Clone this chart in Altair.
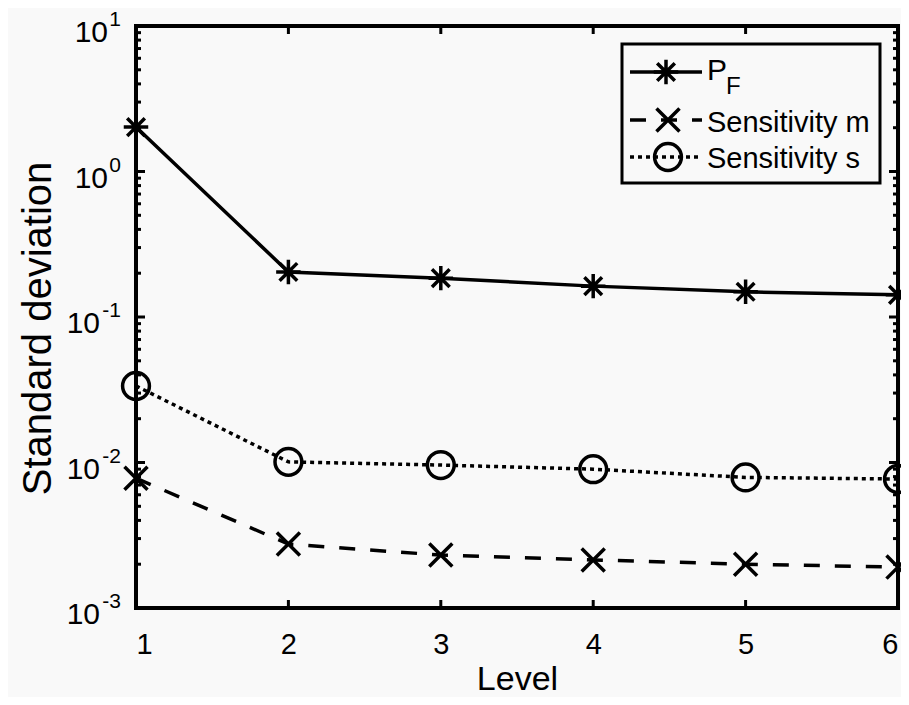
import altair as alt
import pandas as pd

# ---------------- data ----------------
levels = [1, 2, 3, 4, 5, 6]
pf = [2.02, 0.204, 0.185, 0.163, 0.149, 0.142]
sens_m = [0.0078, 0.00275, 0.00231, 0.00214, 0.00200, 0.00191]
sens_s = [0.0336, 0.0101, 0.0096, 0.0090, 0.0079, 0.0077]
series_names = ["P_F", "Sensitivity m", "Sensitivity s"]

x_tick_values = [1, 2, 3, 4, 5, 6]
x_inner_ticks = [2, 3, 4, 5]
y_exponents = [1, 0, -1, -2, -3]
minor_multipliers = [2, 3, 4, 5, 6, 7, 8, 9]

legend_p = ["P"]
legend_sub = ["F"]
legend_m = ["Sensitivity m"]
legend_s = ["Sensitivity s"]

# ---------------- styles ----------------
W, H = 762, 582
BG = "#f9f9f9"
FONT = "Liberation Sans"
LW = 3.5
ASTERISK = "M-1,0L1,0M0,-1L0,1M-0.72,-0.72L0.72,0.72M-0.72,0.72L0.72,-0.72"
XMARK = "M-1,-1L1,1M-1,1L1,-1"
DASH_M = [16, 15]
DOT_S = [4, 4]

df_pf = pd.DataFrame({"level": levels, "value": pf, "series": series_names[0]})
df_m = pd.DataFrame({"level": levels, "value": sens_m, "series": series_names[1]})
df_s = pd.DataFrame({"level": levels, "value": sens_s, "series": series_names[2]})

xs = alt.Scale(domain=[1, 6], nice=False, zero=False)
ys = alt.Scale(type="log", domain=[1e-3, 10], nice=False)

x_axis = alt.Axis(values=x_tick_values, ticks=False, tickSize=0, domain=False, grid=False,
                  labelFontSize=29, labelPadding=22, labelFont=FONT, labelColor="black",
                  title="Level", titleFontSize=34, titleFontWeight="normal", titleFont=FONT,
                  titleColor="black", titleY=81, titleBaseline="alphabetic")
y_axis = alt.Axis(labels=False, ticks=False, tickSize=0, domain=False, grid=False,
                  title="Standard deviation", titleFontSize=40, titleFontWeight="normal",
                  titleFont=FONT, titleColor="black", titleX=-86, titleY=302,
                  titleBaseline="alphabetic")

def X(field):
    return alt.X(f"{field}:Q", scale=xs, axis=x_axis)

def Y(field):
    return alt.Y(f"{field}:Q", scale=ys, axis=y_axis)

layers = []

# series lines
layers.append(alt.Chart(df_pf).mark_line(color="black", strokeWidth=LW).encode(x=X("level"), y=Y("value")))
layers.append(alt.Chart(df_m).mark_line(color="black", strokeWidth=LW, strokeDash=DASH_M, strokeCap="butt").encode(x=X("level"), y=Y("value")))
layers.append(alt.Chart(df_s).mark_line(color="black", strokeWidth=LW, strokeDash=DOT_S, strokeCap="butt").encode(x=X("level"), y=Y("value")))

# markers
layers.append(alt.Chart(df_pf).mark_point(shape=ASTERISK, size=600, filled=False, color="black", strokeWidth=LW, opacity=1).encode(x=X("level"), y=Y("value")))
layers.append(alt.Chart(df_m).mark_point(shape=XMARK, size=530, filled=False, color="black", strokeWidth=LW, opacity=1).encode(x=X("level"), y=Y("value")))
layers.append(alt.Chart(df_s).mark_point(shape="circle", size=720, filled=False, color="black", strokeWidth=LW, opacity=1).encode(x=X("level"), y=Y("value")))

# ---------------- inward ticks ----------------
major_df = pd.DataFrame({"tv": [10.0 ** e for e in y_exponents]})
minor_df = pd.DataFrame({"tv": [m * 10.0 ** e for e in y_exponents if e < 1 for m in minor_multipliers]})
xt_df = pd.DataFrame({"tv": x_inner_ticks})

for d, ln in ((major_df, 9), (minor_df, 5)):
    layers.append(alt.Chart(d).mark_rule(color="black", strokeWidth=3).encode(y=Y("tv"), x=alt.value(0), x2=alt.value(ln)))
    layers.append(alt.Chart(d).mark_rule(color="black", strokeWidth=3).encode(y=Y("tv"), x=alt.value(W - ln), x2=alt.value(W)))
layers.append(alt.Chart(xt_df).mark_rule(color="black", strokeWidth=3).encode(x=X("tv"), y=alt.value(H - 8), y2=alt.value(H)))
layers.append(alt.Chart(xt_df).mark_rule(color="black", strokeWidth=3).encode(x=X("tv"), y=alt.value(0), y2=alt.value(8)))

# ---------------- y tick labels 10^e ----------------
ylab_df = pd.DataFrame({"e": y_exponents, "es": [str(e) for e in y_exponents]})
ylab = alt.Chart(ylab_df).transform_calculate(tv="pow(10, datum.e)")
layers.append(ylab.transform_filter("datum.e >= 0").mark_text(text="10", align="right", baseline="middle", fontSize=30, font=FONT, dy=7, color="black").encode(y=Y("tv"), x=alt.value(-28)))
layers.append(ylab.transform_filter("datum.e < 0").mark_text(text="10", align="right", baseline="middle", fontSize=30, font=FONT, dy=7, color="black").encode(y=Y("tv"), x=alt.value(-36)))
layers.append(ylab.mark_text(align="right", baseline="middle", fontSize=21, font=FONT, dy=-6, color="black").encode(y=Y("tv"), x=alt.value(-15), text="es:N"))

# ---------------- legend ----------------
one = pd.DataFrame({"k": [0]})
LX0, LX1, LMX, LTX = 494, 566, 530, 571
E1, E2, E3 = 46, 94, 131
layers.append(alt.Chart(one).mark_rect(fill=BG, stroke="black", strokeWidth=3).encode(
    x=alt.value(486), x2=alt.value(744), y=alt.value(18), y2=alt.value(157)))
# entry 1
layers.append(alt.Chart(one).mark_rule(color="black", strokeWidth=LW).encode(x=alt.value(LX0), x2=alt.value(LX1), y=alt.value(E1)))
layers.append(alt.Chart(one).mark_point(shape=ASTERISK, size=600, filled=False, color="black", strokeWidth=LW, opacity=1).encode(x=alt.value(LMX), y=alt.value(E1)))
layers.append(alt.Chart(pd.DataFrame({"t": legend_p})).mark_text(align="left", baseline="middle", fontSize=30, font=FONT, color="black").encode(x=alt.value(LTX), y=alt.value(E1 - 1), text="t:N"))
layers.append(alt.Chart(pd.DataFrame({"t": legend_sub})).mark_text(align="left", baseline="middle", fontSize=24, font=FONT, color="black").encode(x=alt.value(LTX + 19), y=alt.value(E1 + 15), text="t:N"))
# entry 2
layers.append(alt.Chart(one).mark_rule(color="black", strokeWidth=LW, strokeDash=DASH_M, strokeCap="butt").encode(x=alt.value(LX0), x2=alt.value(LX1), y=alt.value(E2)))
layers.append(alt.Chart(one).mark_point(shape=XMARK, size=530, filled=False, color="black", strokeWidth=LW, opacity=1).encode(x=alt.value(LMX + 2), y=alt.value(E2)))
layers.append(alt.Chart(pd.DataFrame({"t": legend_m})).mark_text(align="left", baseline="middle", fontSize=29, font=FONT, color="black").encode(x=alt.value(LTX), y=alt.value(E2 + 3), text="t:N"))
# entry 3
layers.append(alt.Chart(one).mark_rule(color="black", strokeWidth=LW, strokeDash=DOT_S, strokeCap="butt").encode(x=alt.value(LX0), x2=alt.value(LX1), y=alt.value(E3)))
layers.append(alt.Chart(one).mark_point(shape="circle", size=720, filled=False, color="black", strokeWidth=LW, opacity=1).encode(x=alt.value(LMX + 2), y=alt.value(E3)))
layers.append(alt.Chart(pd.DataFrame({"t": legend_s})).mark_text(align="left", baseline="middle", fontSize=29, font=FONT, color="black").encode(x=alt.value(LTX), y=alt.value(E3 + 2), text="t:N"))

chart = alt.layer(*layers).properties(
    width=W, height=H, autosize="none",
    padding={"left": 128, "top": 18, "right": 3, "bottom": 89},
    background=BG,
).configure_view(stroke="black", strokeWidth=4)

chart.save("out.html", embed_options={"renderer": "svg", "actions": False})
